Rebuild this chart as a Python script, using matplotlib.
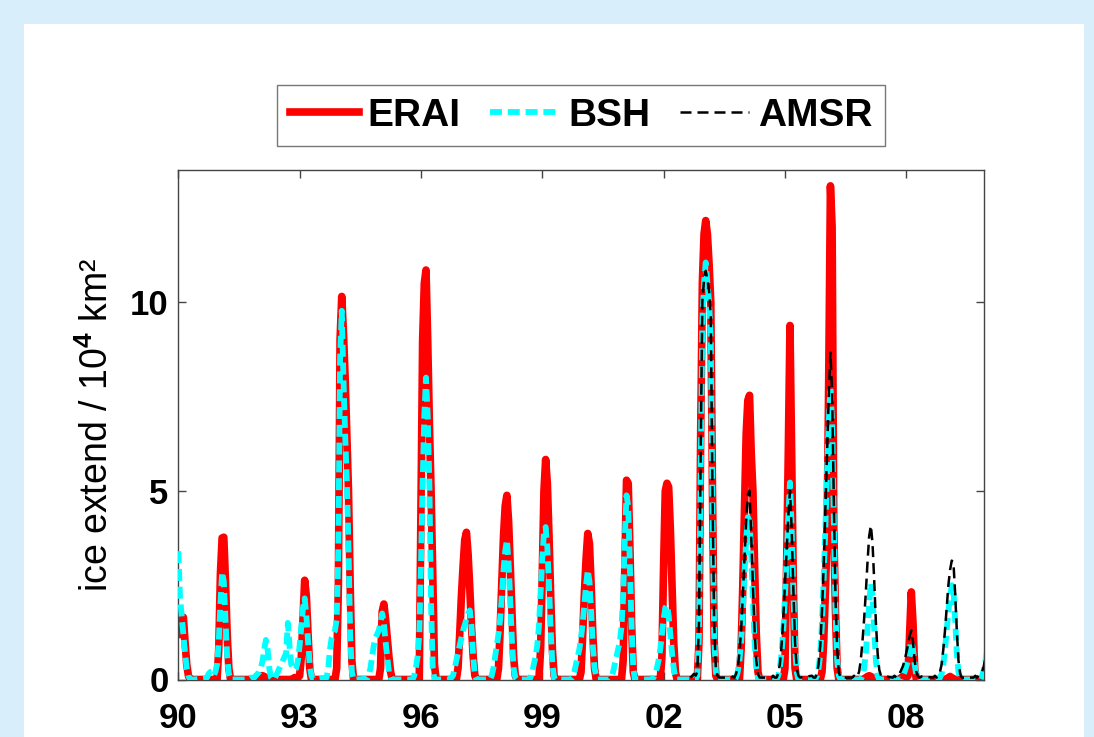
import numpy as np
import matplotlib
matplotlib.use("Agg")
import matplotlib.pyplot as plt
from matplotlib.patches import Rectangle

plt.rcParams['font.family'] = ['Liberation Sans', 'DejaVu Sans']
plt.rcParams['mathtext.fontset'] = 'custom'
plt.rcParams['mathtext.rm'] = 'Liberation Sans'
plt.rcParams['mathtext.bf'] = 'Liberation Sans:bold'

nan = np.nan

# winter seasons; values sampled every half month from mid-Sep (k=-8) to mid-May (k=+9) around Jan 1
season_years = list(range(1990, 2011))
halfmonth_steps = list(range(-8, 10))

erai_by_season = [
    [nan]*8 + [1.2, 1.5, 1.6, 1.65, 1.0, 0.4, 0.1, 0, 0, 0],                      # 1990
    [0, 0, 0, 0, 0, 0, 0, 0] + [0.8, 2.8, 3.75, 3.77, 2.6, 1.2, 0.3, 0, 0, 0],     # 1991
    [0, 0, 0, 0, 0, 0, 0, 0.02] + [0.05, 0.1, 0.1, 0.08, 0.05, 0, 0, 0, 0, 0],     # 1992
    [0, 0, 0, 0, 0.02, 0.05, 0.05, 0.05] + [0.1, 0.6, 1.6, 2.63, 2.2, 1.2, 0.3, 0, 0, 0],  # 1993
    [0, 0, 0, 0, 0, 0, 0.3, 2.5] + [9.0, 10.15, 9.2, 8.0, 6.5, 5.0, 2.5, 0.5, 0, 0],  # 1994
    [0, 0, 0, 0, 0, 0, 0, 0] + [0.3, 1.8, 2.0, 1.6, 1.1, 0.6, 0.2, 0, 0, 0],       # 1995
    [0, 0, 0, 0, 0, 0, 0, 0] + [4.5, 9.0, 10.5, 10.85, 9.0, 6.8, 5.0, 2.8, 0.4, 0],  # 1996
    [0, 0, 0, 0, 0, 0, 0.3, 1.2] + [2.2, 3.0, 3.7, 3.9, 3.3, 2.4, 1.4, 0.6, 0.1, 0],  # 1997
    [0, 0, 0, 0, 0, 0, 0.3, 1.3] + [2.6, 3.8, 4.6, 4.88, 4.2, 3.0, 1.8, 0.6, 0.1, 0],  # 1998
    [0, 0, 0, 0, 0, 0, 0, 0.8] + [2.8, 5.0, 5.83, 5.2, 3.8, 2.2, 0.8, 0.1, 0, 0],  # 1999
    [0, 0, 0, 0, 0, 0, 0, 0.2] + [1.2, 2.3, 3.2, 3.87, 3.6, 2.5, 1.2, 0.3, 0, 0],  # 2000
    [0, 0, 0, 0, 0, 0, 0, 0] + [0.5, 3.0, 5.28, 5.2, 3.5, 1.5, 0.2, 0, 0, 0],      # 2001
    [0, 0, 0, 0, 0, 0, 0, 0.6] + [3.0, 5.0, 5.2, 5.1, 4.0, 2.5, 1.0, 0.2, 0, 0],   # 2002
    [0, 0, 0, 0, 0, 1.0, 6.5, 10.5] + [11.8, 12.16, 11.8, 11.0, 10.0, 5.0, 1.0, 0.1, 0, 0],  # 2003
    [0, 0, 0, 0, 0, 0, 0.8, 2.5] + [4.5, 6.5, 7.4, 7.53, 6.0, 5.0, 3.0, 1.2, 0.2, 0],  # 2004
    [0, 0, 0, 0, 0, 0, 0, 0] + [0.3, 3.0, 6.0, 9.38, 6.0, 2.5, 0.3, 0, 0, 0],      # 2005
    [0, 0, 0, 0, 0, 0, 0.2, 1.0] + [2.3, 3.8, 8.0, 13.08, 12.0, 4.0, 1.8, 0.3, 0, 0],  # 2006
    [0, 0, 0, 0, 0, 0, 0, 0] + [0.05, 0.08, 0.1, 0.08, 0.05, 0.02, 0, 0, 0, 0],    # 2007
    [0, 0, 0, 0, 0, 0.05, 0.08, 0.08] + [0.05, 0.1, 1.2, 2.32, 1.5, 0.3, 0, 0, 0, 0],  # 2008
    [0, 0, 0, 0, 0, 0, 0, 0] + [0.02, 0.05, 0.08, 0.05, 0.02, 0, 0, 0, 0, 0],      # 2009
    [0, 0, 0, 0, 0, 0, 0, 0] + [0] + [nan]*9,                                       # 2010
]

bsh_by_season = [
    [nan]*8 + [3.4, 2.2, 1.7, 1.2, 0.7, 0.3, 0.1, 0, 0, 0],                        # 1990
    [0.02, 0.05, 0.15, 0.2, 0.2, 0.1, 0.2, 0.4] + [1.0, 2.0, 2.85, 2.6, 1.6, 0.6, 0.15, 0, 0, 0],  # 1991
    [0, 0, 0.02, 0.05, 0.05, 0.05, 0.1, 0.15] + [0.2, 0.3, 0.5, 0.8, 1.05, 0.8, 0.3, 0.05, 0, 0],  # 1992
    [0.7, 1.5, 0.9, 0.4, 0.3, 0.25, 0.3, 0.5] + [0.9, 1.4, 1.9, 2.15, 1.7, 1.0, 0.4, 0.1, 0, 0],   # 1993
    [0.05, 0.3, 0.8, 1.1, 1.2, 1.3, 1.6, 3.5] + [8.5, 9.77, 8.0, 6.5, 5.3, 3.5, 1.2, 0.2, 0, 0],   # 1994
    [0.02, 0.1, 0.3, 0.6, 0.9, 1.1, 1.2, 1.3] + [1.5, 1.75, 1.5, 1.0, 0.6, 0.2, 0.05, 0, 0, 0],    # 1995
    [0, 0, 0, 0, 0.1, 0.3, 0.6, 1.2] + [3.0, 5.2, 7.0, 8.0, 7.0, 5.2, 2.0, 0.3, 0, 0],            # 1996
    [0, 0, 0.05, 0.1, 0.3, 0.5, 0.7, 0.9] + [1.1, 1.3, 1.45, 1.6, 1.75, 1.83, 1.4, 0.6, 0.1, 0],   # 1997
    [0, 0, 0.1, 0.3, 0.6, 0.9, 1.2, 1.6] + [2.2, 2.9, 3.4, 3.7, 3.1, 2.1, 1.0, 0.3, 0.05, 0],      # 1998
    [0, 0.05, 0.2, 0.4, 0.6, 0.9, 1.4, 2.3] + [3.2, 3.9, 4.04, 3.5, 2.5, 1.3, 0.4, 0.05, 0, 0],    # 1999
    [0, 0, 0.05, 0.2, 0.4, 0.6, 0.8, 1.1] + [1.5, 2.0, 2.5, 2.9, 2.6, 1.8, 0.9, 0.3, 0.1, 0],      # 2000
    [0, 0.05, 0.2, 0.4, 0.6, 0.8, 1.0, 1.4] + [2.2, 3.8, 4.88, 4.6, 3.0, 1.4, 0.3, 0, 0, 0],       # 2001
    [0, 0, 0.05, 0.15, 0.3, 0.5, 0.8, 1.2] + [1.6, 1.9, 1.97, 1.7, 1.2, 0.7, 0.3, 0.05, 0, 0],     # 2002
    [0, 0, 0, 0, 0.1, 1.2, 5.5, 9.5] + [10.5, 11.05, 10.5, 10.0, 9.0, 4.5, 1.2, 0.2, 0, 0],        # 2003
    [0, 0, 0, 0.05, 0.2, 0.5, 1.0, 1.8] + [2.8, 3.7, 4.3, 4.2, 3.3, 2.1, 1.0, 0.3, 0.05, 0],       # 2004
    [0, 0, 0, 0, 0.1, 0.3, 0.7, 1.3] + [2.2, 3.2, 4.3, 5.22, 4.0, 2.3, 0.9, 0.2, 0, 0],           # 2005
    [0, 0, 0, 0.1, 0.3, 0.7, 1.5, 2.7] + [4.0, 5.5, 6.8, 7.75, 6.8, 4.3, 1.8, 0.5, 0.1, 0],        # 2006
    [0, 0, 0, 0, 0, 0, 0.1, 0.3] + [0.7, 1.3, 2.0, 2.55, 2.2, 1.3, 0.5, 0.1, 0, 0],               # 2007
    [0, 0, 0, 0, 0, 0, 0.1, 0.2] + [0.35, 0.5, 0.8, 1.0, 0.8, 0.4, 0.1, 0, 0, 0],                 # 2008
    [0, 0, 0, 0, 0.05, 0.15, 0.4, 0.8] + [1.3, 1.8, 2.2, 2.5, 2.4, 1.6, 0.7, 0.2, 0.05, 0],        # 2009
    [0, 0, 0, 0, 0, 0.1, 0.25, 0.5] + [0.8] + [nan]*9,                                             # 2010
]

amsr_by_season = [[nan]*18 for _ in range(13)] + [
    [0.05, 0.1, 0.15, 0.1, 0.2, 1.5, 6.0, 10.0] + [10.6, 10.83, 10.6, 10.3, 9.6, 5.0, 1.5, 0.3, 0.1, 0.05],  # 2003
    [0.05, 0.08, 0.05, 0.15, 0.3, 0.7, 1.3, 2.2] + [3.2, 4.2, 4.9, 5.0, 3.8, 2.5, 1.3, 0.5, 0.15, 0.05],     # 2004
    [0.05, 0.1, 0.05, 0.05, 0.15, 0.4, 0.9, 1.6] + [2.5, 3.4, 4.3, 5.0, 4.0, 2.4, 1.0, 0.3, 0.1, 0.05],      # 2005
    [0.1, 0.05, 0.05, 0.15, 0.4, 0.9, 1.8, 3.0] + [4.5, 6.0, 7.5, 8.66, 7.6, 4.8, 2.2, 0.8, 0.2, 0.05],      # 2006
    [0.05, 0.1, 0.05, 0.1, 0.2, 0.5, 1.0, 1.6] + [2.3, 3.1, 3.8, 4.08, 3.6, 2.6, 1.5, 0.7, 0.25, 0.1],      # 2007
    [0.05, 0.1, 0.05, 0.1, 0.15, 0.25, 0.35, 0.5] + [0.7, 0.9, 1.15, 1.3, 1.0, 0.5, 0.2, 0.08, 0.05, 0.08], # 2008
    [0.05, 0.1, 0.05, 0.1, 0.2, 0.4, 0.8, 1.3] + [1.9, 2.5, 2.9, 3.15, 3.1, 2.3, 1.3, 0.5, 0.15, 0.05],     # 2009
    [0.05, 0.1, 0.05, 0.1, 0.15, 0.2, 0.35, 0.6] + [0.9] + [nan]*9,                                          # 2010
]

legend_labels = ['ERAI', 'BSH', 'AMSR']
xtick_years = [1990, 1993, 1996, 1999, 2002, 2005, 2008]
xtick_labels = ['90', '93', '96', '99', '02', '05', '08']
ytick_values = [0, 5, 10]

# ---- build time axis
t = (np.array(season_years)[:, None] + np.array(halfmonth_steps)[None, :] / 24.0).ravel()
erai = np.array(erai_by_season, dtype=float).ravel()
bsh = np.array(bsh_by_season, dtype=float).ravel()
amsr = np.array(amsr_by_season, dtype=float).ravel()

W, H = 1094, 737
fig = plt.figure(figsize=(W / 100, H / 100), dpi=100)
fig.patch.set_facecolor('#d9eefb')
fig.add_artist(Rectangle((24 / W, 0), 1060 / W, (H - 24) / H, transform=fig.transFigure,
                         facecolor='white', edgecolor='none', zorder=-10))

ax = fig.add_axes([178.3 / W, 1 - 679.5 / H, (984.3 - 178.3) / W, (679.5 - 170) / H])
ax.set_facecolor('white')
ax.set_zorder(1)

l1, = ax.plot(t, erai, color='#ff0000', lw=5.5, solid_joinstyle='round', zorder=2)
l2, = ax.plot(t, bsh, color='#00ffff', lw=4.2, dashes=(2.05, 1.0), zorder=3)
l3, = ax.plot(t, amsr, color='black', lw=1.8, dashes=(4.4, 2.4), zorder=4)

ax.set_xlim(1990, 2009.93)
ax.set_ylim(0, 13.5)
ax.set_xticks(xtick_years)
ax.set_xticklabels(xtick_labels)
ax.set_yticks(ytick_values)
ax.tick_params(direction='in', top=True, right=True, length=6, width=1, color='#444444',
               labelsize=25)
ax.tick_params(axis='x', pad=16)
ax.tick_params(axis='y', pad=7)
for lab in ax.get_xticklabels() + ax.get_yticklabels():
    lab.set_fontweight('bold')
for sp in ax.spines.values():
    sp.set_color('#444444')
    sp.set_linewidth(1)

ax.set_ylabel('ice extend / 10$^{\\mathbf{4}}$ km²', fontsize=27, labelpad=10)

leg = fig.legend([l1, l2, l3], legend_labels, loc='center', bbox_to_anchor=(581 / W, 1 - 115.5 / H),
                 ncol=3, frameon=True, fancybox=False, handlelength=1.77, handletextpad=0.23,
                 columnspacing=0.76, borderpad=0.33,
                 prop={'family': 'Liberation Sans', 'weight': 'bold', 'size': 28})
leg.get_frame().set_edgecolor('#555555')
leg.get_frame().set_linewidth(1)

fig.savefig('out.png', dpi=100, facecolor=fig.get_facecolor())
